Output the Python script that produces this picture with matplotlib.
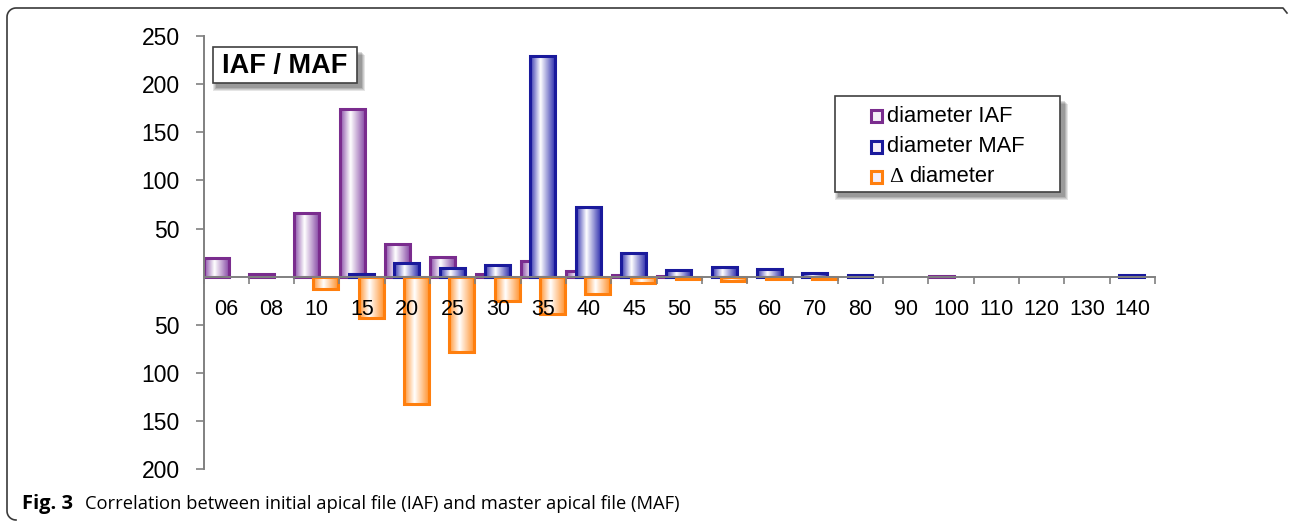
import numpy as np
import matplotlib
matplotlib.use("Agg")
from matplotlib import pyplot as plt
from matplotlib.colors import LinearSegmentedColormap
from matplotlib.patches import Rectangle
from matplotlib.lines import Line2D

# file sizes on the x axis
categories = ['06', '08', '10', '15', '20', '25', '30', '35', '40', '45', '50',
              '55', '60', '70', '80', '90', '100', '110', '120', '130', '140']
iaf = [19, 3, 66, 174, 34, 20, 3, 16, 6, 2, 1, 0, 0, 0, 0, 0, 1, 0, 0, 0, 0]
maf = [0, 0, 0, 3, 14, 9, 12, 229, 72, 25, 7, 10, 8, 3.5, 2, 0, 0, 0, 0, 0, 1.5]
delta = [0, 0, -13, -43, -132, -78, -25, -39, -18, -7, -2.5, -4.5, -2.5, -2,
         0, 0, 0, 0, 0, 0, 0]
series_names = ['diameter IAF', 'diameter MAF', 'diameter']
y_ticks = [-200, -150, -100, -50, 50, 100, 150, 200, 250]

W, H = 1290, 522
fig = plt.figure(figsize=(W / 100, H / 100), dpi=100)
plt.rcParams['font.family'] = ['Liberation Sans', 'DejaVu Sans']


def px(x, y):
    # pixel position (top-left origin) -> figure fraction
    return x / W, 1 - y / H


ax = fig.add_axes([203.5 / W, 1 - 469.3 / H, (1155 - 203.5) / W, (469.3 - 36) / H])
ax.set_axisbelow(False)

styles = [
    # edge, gradient edge colour, offset, zorder
    ('#7a2c8e', '#8a4ea8', 0.28, 1.0),
    ('#1a1a9c', '#3434b0', 0.49, 1.2),
    ('#ff7f0e', '#ff9636', 0.70, 1.4),
]
bar_w = 0.55
grad = np.linspace(0, 1, 64)[None, :]


def grad_bar(x, h, edge, dark, z):
    if h == 0:
        return
    cmap = LinearSegmentedColormap.from_list('g', [(0, dark), (0.42, '#ffffff'), (1, dark)])
    lo, hi = min(0, h), max(0, h)
    ax.imshow(grad, cmap=cmap, aspect='auto', extent=[x - bar_w / 2, x + bar_w / 2, lo, hi],
              interpolation='bilinear', zorder=z)
    ax.add_patch(Rectangle((x - bar_w / 2, lo), bar_w, hi - lo, fill=False,
                           edgecolor=edge, lw=2.2, zorder=z + 0.05))


for vals, (edge, dark, off, z) in zip([iaf, maf, delta], styles):
    for i, v in enumerate(vals):
        grad_bar(i + off, v, edge, dark, z)

ax.set_xlim(0, len(categories))
ax.set_ylim(-200, 250)

for s in ['top', 'right']:
    ax.spines[s].set_visible(False)
ax.spines['bottom'].set_position(('data', 0))
for s in ['left', 'bottom']:
    ax.spines[s].set_color('#808080')
    ax.spines[s].set_linewidth(1.4)

ax.set_yticks(y_ticks)
ax.set_yticklabels([str(abs(v)) for v in y_ticks], fontsize=16.5)
ax.tick_params(axis='y', direction='out', length=6, width=1.2, color='#808080', pad=11)

ax.set_xticks(np.arange(0, len(categories) + 1))
ax.set_xticklabels([])
ax.set_xticks(np.arange(len(categories)) + 0.5, minor=True)
ax.set_xticklabels(categories, minor=True, fontsize=15.5)
ax.tick_params(axis='x', which='major', direction='out', length=5, width=1.2, color='#808080')
ax.tick_params(axis='x', which='minor', length=0, pad=16)


def shadow_box(x0, y0, x1, y1):
    for k, a in enumerate([0.10, 0.10, 0.12, 0.14]):
        d = 5 - k
        fx, fy = px(x0 + 5 - d, y1 + 3 + d)
        fig.add_artist(Rectangle((fx, fy), (x1 - x0 + 2 * d - 2) / W, (y1 - y0) / H,
                                 transform=fig.transFigure, facecolor='#000000',
                                 alpha=a, edgecolor='none', zorder=5))
    fx, fy = px(x0, y1)
    fig.add_artist(Rectangle((fx, fy), (x1 - x0) / W, (y1 - y0) / H, transform=fig.transFigure,
                             facecolor='white', edgecolor='#404040', lw=1.2, zorder=6))


# title box
shadow_box(213, 47, 357, 83)
fig.text(*px(285, 66), 'IAF / MAF', fontsize=19.5, fontweight='bold', ha='center',
         va='center', zorder=7)

# legend box
shadow_box(835, 96, 1060, 192)
rows = [116, 147, 177]
for (edge, dark, off, z), name, ry in zip(styles, series_names, rows):
    fx, fy = px(871, ry + 6)
    fig.add_artist(Rectangle((fx, fy), 11 / W, 12 / H, transform=fig.transFigure,
                             facecolor='#f4eef8', edgecolor=edge, lw=2.2, zorder=7))
    if name == 'diameter':
        fig.text(*px(889, ry), '\u0394', fontsize=15.5, family='Liberation Serif',
                 va='center', zorder=7)
        fig.text(*px(909, ry), name, fontsize=15.8, va='center', zorder=7)
    else:
        fig.text(*px(887, ry), name, fontsize=15.8, va='center', zorder=7)

# outer frame: right corner stub, top edge, rounded top-left, left edge, rounded bottom-left
r = 9
t = np.linspace(0.5 * np.pi, np.pi, 12)
bt = np.linspace(np.pi, 1.5 * np.pi, 12)
fr_x = [1287, 1283] + list(7 + r + r * np.cos(t)) + list(7 + r + r * np.cos(bt))
fr_y = [13, 8] + list(8 + r - r * np.sin(t)) + list(511 - r * np.sin(bt))
fig.add_artist(Line2D([x / W for x in fr_x], [1 - y / H for y in fr_y],
                      transform=fig.transFigure, color='#3a3a3a', lw=1.2))

# caption
fig.text(*px(22, 509), 'Fig. 3', fontsize=14.5, fontweight='bold', family='Open Sans',
         va='baseline')
fig.text(*px(85, 509), 'Correlation between initial apical file (IAF) and master apical file (MAF)',
         fontsize=13.2, family='Open Sans', va='baseline')

fig.savefig('out.png', dpi=100, facecolor='white')
